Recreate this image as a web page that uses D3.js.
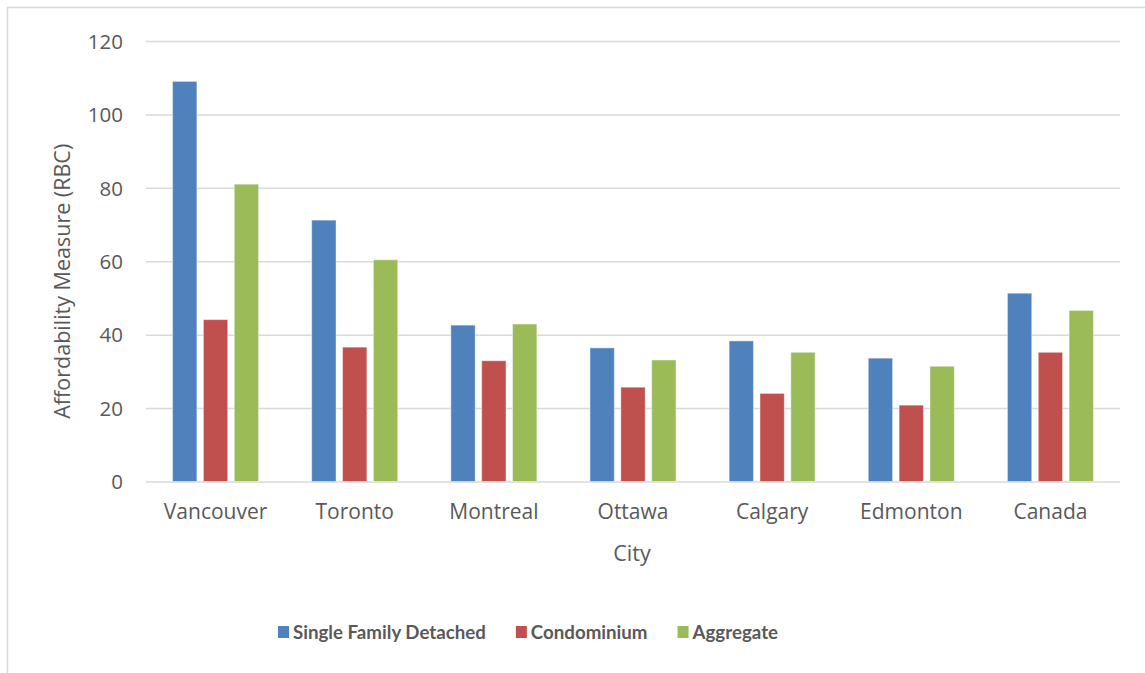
<!DOCTYPE html>
<html>
<head>
<meta charset="utf-8">
<script src="https://cdn.jsdelivr.net/npm/d3@7"></script>
<style>
  html, body { margin: 0; padding: 0; background: #fff; }
  svg { display: block; }
  text { font-family: "Open Sans", "Noto Sans", sans-serif; fill: #595959; }
  .legend text { font-family: Lato, "Open Sans", sans-serif; }
</style>
</head>
<body>
<svg id="chart" width="1145" height="673"></svg>
<script>
// Housing affordability by city (RBC measure)
const cities = ["Vancouver", "Toronto", "Montreal", "Ottawa", "Calgary", "Edmonton", "Canada"];
const seriesNames = ["Single Family Detached", "Condominium", "Aggregate"];
const singleFamily = [109, 71.2, 42.6, 36.4, 38.3, 33.6, 51.3];
const condominium = [44.1, 36.6, 32.9, 25.7, 24.0, 20.8, 35.2];
const aggregate = [81.0, 60.4, 42.9, 33.1, 35.2, 31.4, 46.6];
const yTicks = [0, 20, 40, 60, 80, 100, 120];
const colors = ["#4F81BD", "#C0504D", "#9BBB59"];

const seriesValues = [singleFamily, condominium, aggregate];

const svg = d3.select("#chart");
const W = 1145, H = 673;

// outer chart frame
svg.append("rect")
  .attr("x", 7.5).attr("y", 7.5)
  .attr("width", W + 20).attr("height", H + 20)
  .attr("fill", "#fff")
  .attr("stroke", "#d9d9d9").attr("stroke-width", 1.5);

const plot = { left: 146, right: 1120, top: 41, bottom: 481.5 };

const x = d3.scaleBand()
  .domain(cities)
  .range([plot.left, plot.right])
  .paddingInner(0).paddingOuter(0);

const y = d3.scaleLinear()
  .domain([0, 120])
  .range([plot.bottom, plot.top]);

const barW = x.bandwidth() * 0.175;
const barGap = 6.5;
const groupW = barW * 3 + barGap * 2;
const groupOffset = (x.bandwidth() - groupW) / 2;

// gridlines
const yAxis = d3.axisLeft(y).tickValues(yTicks).tickSize(-(plot.right - plot.left)).tickPadding(23);
const gy = svg.append("g")
  .attr("transform", `translate(${plot.left},0)`)
  .call(yAxis);
gy.select(".domain").remove();
gy.selectAll(".tick line").attr("stroke", "#d9d9d9").attr("stroke-width", 1.5);
gy.selectAll(".tick text")
  .attr("font-size", 20.5)
  .attr("fill", "#595959")
  .attr("dy", "0.35em");

// bars
seriesValues.forEach((vals, si) => {
  svg.append("g")
    .selectAll("rect")
    .data(cities.map((c, i) => ({ city: c, value: vals[i] })))
    .join("rect")
    .attr("x", d => x(d.city) + groupOffset + si * (barW + barGap))
    .attr("y", d => y(d.value))
    .attr("width", barW)
    .attr("height", d => y(0) - y(d.value))
    .attr("fill", colors[si])
    .attr("stroke", "#ffffff")
    .attr("stroke-opacity", 0.45)
    .attr("stroke-width", 1);
});

// category axis labels
const xAxis = d3.axisBottom(x).tickSize(0).tickPadding(23);
const gx = svg.append("g")
  .attr("transform", `translate(0,${plot.bottom})`)
  .call(xAxis);
gx.select(".domain").remove();
gx.selectAll(".tick text")
  .attr("font-size", 21)
  .attr("fill", "#595959");

// axis titles
svg.append("text")
  .attr("x", 632).attr("y", 561)
  .attr("text-anchor", "middle")
  .attr("font-size", 21.5)
  .text("City");

svg.append("text")
  .attr("transform", `translate(70,${(plot.top + plot.bottom) / 2 + 20}) rotate(-90)`)
  .attr("text-anchor", "middle")
  .attr("font-size", 21.5)
  .text("Affordability Measure (RBC)");

// legend
const legend = svg.append("g").attr("class", "legend");
const items = legend.selectAll("g")
  .data(seriesNames)
  .join("g");
items.append("rect")
  .attr("width", 11).attr("height", 12)
  .attr("y", -13)
  .attr("fill", (d, i) => colors[i]);
items.append("text")
  .attr("x", 15).attr("y", 0)
  .attr("font-size", 18.7)
  .attr("font-weight", "bold")
  .attr("fill", "#595959")
  .text(d => d);
let cursor = 0;
const widths = [];
items.each(function () {
  const w = 15 + d3.select(this).select("text").node().getComputedTextLength();
  widths.push(w);
});
const spacing = 30;
const total = d3.sum(widths) + spacing * (widths.length - 1);
const startX = 528 - total / 2;
items.attr("transform", (d, i) => {
  const tx = startX + cursor;
  cursor += widths[i] + spacing;
  return `translate(${tx},639)`;
});
</script>
</body>
</html>
